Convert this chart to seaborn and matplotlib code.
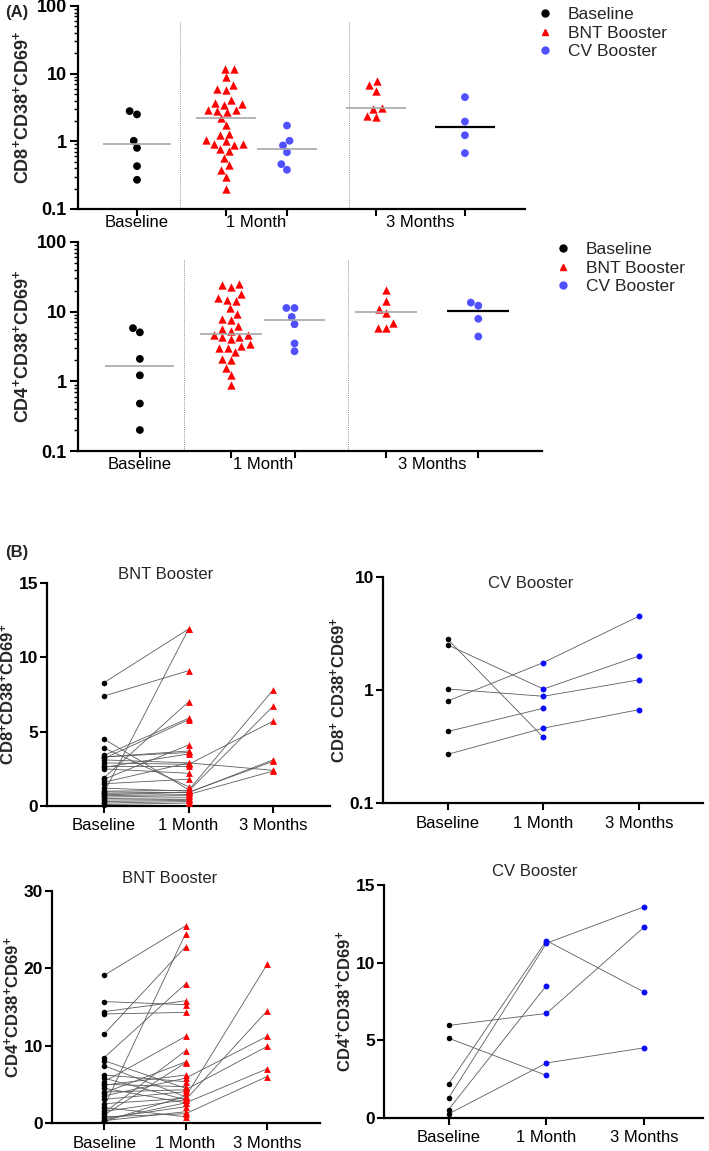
import numpy as np
import pandas as pd
import matplotlib
matplotlib.use("Agg")
import matplotlib.pyplot as plt
from matplotlib.lines import Line2D
from matplotlib.ticker import LogLocator, NullFormatter, NullLocator
import seaborn as sns

# ---------------- panel A : log-scale column scatter ----------------
a_cd8_base = [2.5, 2.8, 1.02, 0.8, 0.43, 0.27]
a_cd8_bnt_1m = [11.8, 11.8, 8.9, 6.8, 5.7, 5.9, 4.05, 3.7, 3.6, 3.5, 2.9, 2.95, 2.8, 2.7, 2.2,
                1.73, 1.3, 1.22, 1.04, 1.0, 0.89, 0.92, 0.92, 0.77, 0.71, 0.56, 0.44, 0.38, 0.30, 0.20]
a_cd8_cv_1m = [1.71, 1.02, 0.87, 0.69, 0.46, 0.38]
a_cd8_bnt_3m = [7.7, 6.7, 5.6, 3.0, 3.1, 2.3, 2.4]
a_cd8_cv_3m = [4.5, 1.96, 1.23, 0.67]
a_cd8_lines = [0.92, 2.2, 0.78, 3.1, 1.62]

a_cd4_base = [5.05, 5.8, 2.1, 1.22, 0.48, 0.20]
a_cd4_bnt_1m = [25.2, 22.6, 23.9, 17.7, 14.1, 14.9, 15.7, 11.3, 9.4, 7.7, 7.9, 6.2, 5.7, 5.3, 4.7,
                4.3, 4.3, 4.0, 4.7, 3.4, 3.0, 3.2, 3.0, 2.6, 2.1, 2.05, 1.55, 1.23, 0.9]
a_cd4_cv_1m = [11.3, 11.3, 8.4, 6.6, 3.5, 2.7]
a_cd4_bnt_3m = [20.2, 14.4, 11.0, 9.7, 6.9, 5.8, 5.8]
a_cd4_cv_3m = [12.2, 13.5, 7.9, 4.4]
a_cd4_lines = [1.66, 4.8, 7.5, 9.9, 10.1]

a_groups = ["Baseline", "BNT Booster", "CV Booster", "BNT Booster", "CV Booster"]
time_labels = ["Baseline", "1 Month", "3 Months"]

# ---------------- panel B : paired donors ----------------
bnt_cd8_base = [8.3, 7.4, 0.9, 4.5, 3.9, 3.4, 3.3, 3.3, 3.2, 3.1, 2.9, 2.7, 2.6, 2.5, 1.9,
                1.8, 1.6, 1.5, 1.2, 1.0, 0.95, 0.85, 0.75, 0.7, 0.6, 0.5, 0.4, 0.3, 0.2, 0.1]
bnt_cd8_1m = [11.9, 9.1, 11.9, 1.1, 1.3, 5.9, 3.7, 3.6, 5.8, 2.9, 2.8, 2.7, 3.5, 2.2, 7.0,
              4.1, 2.9, 1.8, 1.0, 1.05, 0.9, 0.92, 0.92, 0.77, 0.7, 0.56, 0.44, 0.38, 0.3, 0.2]
bnt_cd8_3m_subj = [19, 18, 10, 20, 21, 9, 23]
bnt_cd8_3m = [7.8, 6.7, 5.7, 3.1, 3.0, 2.4, 2.35]

cv_cd8_base = [2.8, 2.5, 1.02, 0.8, 0.43, 0.27]
cv_cd8_1m = [0.38, 1.02, 0.88, 1.75, 0.69, 0.46]
cv_cd8_3m_subj = [3, 1, 2, 5]
cv_cd8_3m = [4.5, 2.0, 1.23, 0.67]

bnt_cd4_base = [19.1, 15.7, 14.4, 14.1, 11.5, 8.45, 8.06, 7.41, 6.2, 5.8, 5.35, 4.9, 4.5, 3.9, 3.06,
                2.1, 1.33, 1.03, 0.6, 0.3, 5.0, 4.0, 3.5, 2.5, 2.0, 1.5, 0.8, 0.4, 0.2]
bnt_cd4_1m = [25.5, 15.3, 15.8, 14.3, 22.8, 18.0, 4.5, 3.4, 5.35, 3.0, 11.2, 6.2, 2.6, 7.9, 4.05,
              24.5, 9.35, 7.8, 2.1, 1.46, 4.7, 4.3, 5.8, 3.2, 0.81, 3.0, 1.2, 2.6, 3.5]
bnt_cd4_3m_subj = [7, 9, 22, 21, 12, 26]
bnt_cd4_3m = [20.5, 14.5, 11.2, 9.9, 7.0, 6.0]

cv_cd4_base = [5.96, 5.14, 2.19, 1.29, 0.54, 0.26]
cv_cd4_1m = [6.73, 2.74, 11.42, 11.25, 8.53, 3.54]
cv_cd4_3m_subj = [3, 2, 0, 5]
cv_cd4_3m = [13.6, 8.1, 12.3, 4.52]

RED = "#ff0000"
BLUE_A = "#5050ff"
BLUE_B = "#0a0aff"
GREY = "#a8a8a8"

sns.set_style("ticks")
plt.rcParams["font.family"] = ["Liberation Sans", "DejaVu Sans"]
plt.rcParams.update({
    "mathtext.fontset": "custom",
    "mathtext.rm": "Liberation Sans",
    "mathtext.bf": "Liberation Sans:bold",
    "mathtext.default": "bf",
    "axes.linewidth": 1.6,
    "xtick.major.width": 1.5,
    "ytick.major.width": 1.5,
    "ytick.minor.width": 1.0,
    "axes.edgecolor": "black",
    "xtick.color": "black",
    "ytick.color": "black",
})

CD8 = "CD8$^{+}$CD38$^{+}$CD69$^{+}$"
CD4 = "CD4$^{+}$CD38$^{+}$CD69$^{+}$"


def column_panel(ax, series, pos, lines, xlim, seps, ylabel):
    rows = []
    for grp, vals, p in zip(a_groups, series, pos):
        for v in vals:
            rows.append((grp, p, v))
    df = pd.DataFrame(rows, columns=["group", "pos", "value"])

    ax.set_yscale("log")
    circ = df[df.group != "BNT Booster"]
    tri = df[df.group == "BNT Booster"]
    sns.swarmplot(data=circ, x="pos", y="value", hue="group", orient="v",
                  palette={"Baseline": "black", "CV Booster": BLUE_A},
                  native_scale=True, size=5.6, linewidth=0, legend=False, ax=ax)
    sns.swarmplot(data=tri, x="pos", y="value", color=RED, marker="^", orient="v",
                  native_scale=True, size=6.0, linewidth=0, ax=ax)

    for i, (p, m) in enumerate(zip(pos, lines)):
        last = i == len(pos) - 1
        hw = 0.38 if i == 0 else 0.34
        ax.hlines(m, p - hw, p + hw, colors="black" if last else GREY,
                  lw=1.6 if last else 1.2, zorder=3)
    for s in seps:
        ax.axvline(s, ymin=0, ymax=0.92, color="#8c8c8c", lw=0.7, ls=(0, (1, 1.2)))

    ax.set_xlim(*xlim)
    ax.set_ylim(0.1, 100)
    ax.set_yticks([0.1, 1, 10, 100])
    ax.set_yticklabels(["0.1", "1", "10", "100"], fontsize=13, fontweight="bold")
    ax.yaxis.set_minor_locator(LogLocator(base=10, subs=np.arange(2, 10)))
    ax.yaxis.set_minor_formatter(NullFormatter())
    ax.tick_params(axis="y", which="major", length=6, pad=2)
    ax.tick_params(axis="y", which="minor", length=3)

    # group ticks without text, time labels centred under each time block
    ax.xaxis.remove_overlapping_locs = False
    ax.set_xticks(pos)
    ax.set_xticklabels([])
    label_pos = [pos[0], (pos[1] + pos[2]) / 2, (pos[3] + pos[4]) / 2]
    ax.set_xticks(label_pos, minor=True)
    ax.set_xticklabels(time_labels, minor=True, fontsize=12)
    ax.tick_params(axis="x", which="major", length=5)
    ax.tick_params(axis="x", which="minor", length=0, pad=4)

    ax.set_xlabel("")
    ax.set_ylabel(ylabel, fontsize=13, fontweight="bold", labelpad=3)
    sns.despine(ax=ax)


def paired_panel(ax, base, m1, subj3, m3, later_color, later_marker, log, ylim, yticks,
                 xlim, ylabel, title, title_xy):
    rows = []
    for i, (b, m) in enumerate(zip(base, m1)):
        rows.append((i, 0, b))
        rows.append((i, 1, m))
    for s, v in zip(subj3, m3):
        rows.append((s, 2, v))
    df = pd.DataFrame(rows, columns=["subj", "pos", "value"])

    if log:
        ax.set_yscale("log")
    sns.lineplot(data=df, x="pos", y="value", units="subj", estimator=None,
                 color="#5c5c5c", lw=0.6, ax=ax)
    sns.scatterplot(data=df[df.pos == 0], x="pos", y="value", color="black", marker="o",
                    s=16, linewidth=0, clip_on=False, zorder=4, ax=ax)
    sns.scatterplot(data=df[df.pos > 0], x="pos", y="value", color=later_color,
                    marker=later_marker, s=24 if later_marker == "^" else 18,
                    linewidth=0, clip_on=False, zorder=4, ax=ax)

    ax.set_xlim(*xlim)
    ax.set_ylim(*ylim)
    ax.set_yticks(yticks)
    ax.set_yticklabels([f"{t:g}" for t in yticks], fontsize=12.5, fontweight="bold")
    ax.yaxis.set_minor_locator(NullLocator())
    ax.set_xticks([0, 1, 2])
    ax.set_xticklabels(time_labels, fontsize=12)
    ax.tick_params(axis="both", which="major", length=5)
    ax.tick_params(axis="y", pad=1.5)
    ax.tick_params(axis="x", pad=4)
    ax.set_xlabel("")
    ax.set_ylabel(ylabel, fontsize=12, fontweight="bold", labelpad=1)
    ax.text(title_xy[0], title_xy[1], title, transform=ax.transAxes,
            ha="center", va="center", fontsize=12)
    sns.despine(ax=ax)


fig = plt.figure(figsize=(7.09, 11.51), dpi=100)
W, H = 709.0, 1151.0


def add_axes(left, right, top, bottom):
    return fig.add_axes([left / W, 1 - bottom / H, (right - left) / W, (bottom - top) / H])


ax_a1 = add_axes(78, 525, 6, 209)
column_panel(ax_a1, [a_cd8_base, a_cd8_bnt_1m, a_cd8_cv_1m, a_cd8_bnt_3m, a_cd8_cv_3m],
             [0, 1, 1.685, 2.685, 3.685], a_cd8_lines, (-0.663, 4.36), [0.483, 2.38], CD8)

ax_a2 = add_axes(78, 542, 242, 451)
column_panel(ax_a2, [a_cd4_base, a_cd4_bnt_1m, a_cd4_cv_1m, a_cd4_bnt_3m, a_cd4_cv_3m],
             [0, 1, 1.70, 2.71, 3.72], a_cd4_lines, (-0.68, 4.42), [0.48, 2.29], CD4)

handles = [Line2D([], [], marker="o", color="black", ls="", ms=5),
           Line2D([], [], marker="^", color=RED, ls="", ms=5),
           Line2D([], [], marker="o", color=BLUE_A, ls="", ms=5)]
leg_labels = ["Baseline", "BNT Booster", "CV Booster"]
for lx, ly in [(538, 7), (556, 242)]:
    fig.legend(handles, leg_labels, loc="upper left", bbox_to_anchor=(lx / W, 1 - ly / H),
               frameon=False, fontsize=12.5, handlelength=0.8, handletextpad=0.9,
               labelspacing=0.2, borderpad=0, borderaxespad=0)

ax_b1 = add_axes(47, 330, 583, 806)
paired_panel(ax_b1, bnt_cd8_base, bnt_cd8_1m, bnt_cd8_3m_subj, bnt_cd8_3m, RED, "^", False,
             (0, 15), [0, 5, 10, 15], (-0.675, 2.675), CD8, "BNT Booster", (0.42, 1.04))

ax_b2 = add_axes(383, 703, 577, 803)
paired_panel(ax_b2, cv_cd8_base, cv_cd8_1m, cv_cd8_3m_subj, cv_cd8_3m, BLUE_B, "o", True,
             (0.1, 10), [0.1, 1, 10], (-0.68, 2.67), "CD8$^{+}$ CD38$^{+}$CD69$^{+}$",
             "CV Booster", (0.46, 0.973))

ax_b3 = add_axes(52, 320, 891, 1123)
paired_panel(ax_b3, bnt_cd4_base, bnt_cd4_1m, bnt_cd4_3m_subj, bnt_cd4_3m, RED, "^", False,
             (0, 30), [0, 10, 20, 30], (-0.64, 2.65), CD4, "BNT Booster", (0.44, 1.056))

ax_b4 = add_axes(384, 703, 885, 1118)
paired_panel(ax_b4, cv_cd4_base, cv_cd4_1m, cv_cd4_3m_subj, cv_cd4_3m, BLUE_B, "o", False,
             (0, 15), [0, 5, 10, 15], (-0.66, 2.60), CD4, "CV Booster", (0.473, 1.06))

fig.text(5 / W, 1 - 12 / H, "(A)", fontsize=12, fontweight="bold", va="center")
fig.text(5 / W, 1 - 553 / H, "(B)", fontsize=12, fontweight="bold", va="center")

fig.savefig("out.png", dpi=100)
